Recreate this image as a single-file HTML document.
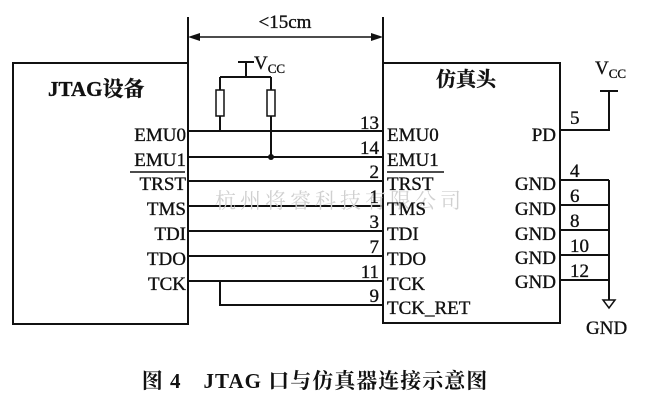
<!DOCTYPE html>
<html><head><meta charset="utf-8"><style>
html,body{margin:0;padding:0;background:#fff;}
svg{display:block;}
text{font-family:"Liberation Serif","Noto Serif CJK SC",serif;fill:#111;}
.l text{stroke:#111;stroke-width:0.35;}
</style></head><body>
<svg width="651" height="401" viewBox="0 0 651 401" xmlns="http://www.w3.org/2000/svg">
<g stroke="#111" stroke-width="2" fill="none">
<rect x="13" y="63" width="175" height="261"/>
<rect x="383" y="63" width="177" height="260"/>
<line x1="188" y1="17" x2="188" y2="63"/>
<line x1="383" y1="17" x2="383" y2="63"/>
<line x1="196" y1="37" x2="375" y2="37" stroke-width="1.5"/>
<line x1="238" y1="62" x2="254" y2="62"/>
<line x1="246" y1="62" x2="246" y2="77"/>
<line x1="220" y1="77" x2="271" y2="77"/>
<line x1="220" y1="77" x2="220" y2="90"/>
<line x1="271" y1="77" x2="271" y2="90"/>
<rect x="216" y="90" width="8" height="26" stroke-width="1.5"/>
<rect x="267" y="90" width="8" height="26" stroke-width="1.5"/>
<line x1="220" y1="116" x2="220" y2="131"/>
<line x1="271" y1="116" x2="271" y2="157"/>
<line x1="188" y1="131" x2="383" y2="131"/>
<line x1="188" y1="157" x2="383" y2="157"/>
<line x1="188" y1="181" x2="383" y2="181"/>
<line x1="188" y1="206" x2="383" y2="206"/>
<line x1="188" y1="231" x2="383" y2="231"/>
<line x1="188" y1="256" x2="383" y2="256"/>
<line x1="188" y1="281" x2="383" y2="281"/>
<polyline points="220,281 220,305 383,305"/>
<polyline points="560,130 609,130 609,91"/>
<line x1="600" y1="91" x2="618" y2="91"/>
<line x1="560" y1="180" x2="609" y2="180"/>
<line x1="560" y1="205" x2="609" y2="205"/>
<line x1="560" y1="230" x2="609" y2="230"/>
<line x1="560" y1="255" x2="609" y2="255"/>
<line x1="560" y1="280" x2="609" y2="280"/>
<line x1="609" y1="180" x2="609" y2="300"/>
<polygon points="603,300 615,300 609,308" stroke-width="1.5"/>
<line x1="130" y1="172" x2="185" y2="172" stroke-width="1.5"/>
<line x1="387" y1="172" x2="444" y2="172" stroke-width="1.5"/>
</g>
<polygon points="188,37 200,33 200,41" fill="#111"/>
<polygon points="383,37 371,33 371,41" fill="#111"/>
<circle cx="271" cy="157" r="3" fill="#111"/>
<text x="215" y="208" font-size="21" style="fill:#d0d0d0" letter-spacing="4">杭州将睿科技有限公司</text>
<g class="l">
<text x="285" y="28" font-size="19" text-anchor="middle">&lt;15cm</text>
<text x="254" y="69" font-size="19">V<tspan font-size="13" dy="4">CC</tspan></text>
<text x="595" y="74" font-size="19">V<tspan font-size="13" dy="4">CC</tspan></text>
<text x="48" y="96" font-size="21" font-weight="bold">JTAG设备</text>
<text x="436" y="86" font-size="20" font-weight="bold">仿真头</text>
<g font-size="19" text-anchor="end">
<text x="186" y="141">EMU0</text>
<text x="186" y="166">EMU1</text>
<text x="186" y="190">TRST</text>
<text x="186" y="215">TMS</text>
<text x="186" y="240">TDI</text>
<text x="186" y="265">TDO</text>
<text x="186" y="290">TCK</text>
<text x="379" y="129">13</text>
<text x="379" y="154">14</text>
<text x="379" y="178">2</text>
<text x="379" y="203">1</text>
<text x="379" y="228">3</text>
<text x="379" y="253">7</text>
<text x="379" y="278">11</text>
<text x="379" y="302">9</text>
<text x="556" y="141">PD</text>
<text x="556" y="190">GND</text>
<text x="556" y="215">GND</text>
<text x="556" y="240">GND</text>
<text x="556" y="264">GND</text>
<text x="556" y="288">GND</text>
</g>
<g font-size="19">
<text x="387" y="141">EMU0</text>
<text x="387" y="166">EMU1</text>
<text x="387" y="190">TRST</text>
<text x="387" y="215">TMS</text>
<text x="387" y="240">TDI</text>
<text x="387" y="265">TDO</text>
<text x="387" y="290">TCK</text>
<text x="387" y="314">TCK_RET</text>
<text x="570" y="124">5</text>
<text x="570" y="177">4</text>
<text x="570" y="202">6</text>
<text x="570" y="227">8</text>
<text x="570" y="252">10</text>
<text x="570" y="277">12</text>
<text x="586" y="334">GND</text>
</g>
</g>
<text x="315" y="388" font-size="21" font-weight="bold" text-anchor="middle" letter-spacing="1">图 4　JTAG 口与仿真器连接示意图</text>
</svg>
</body></html>
